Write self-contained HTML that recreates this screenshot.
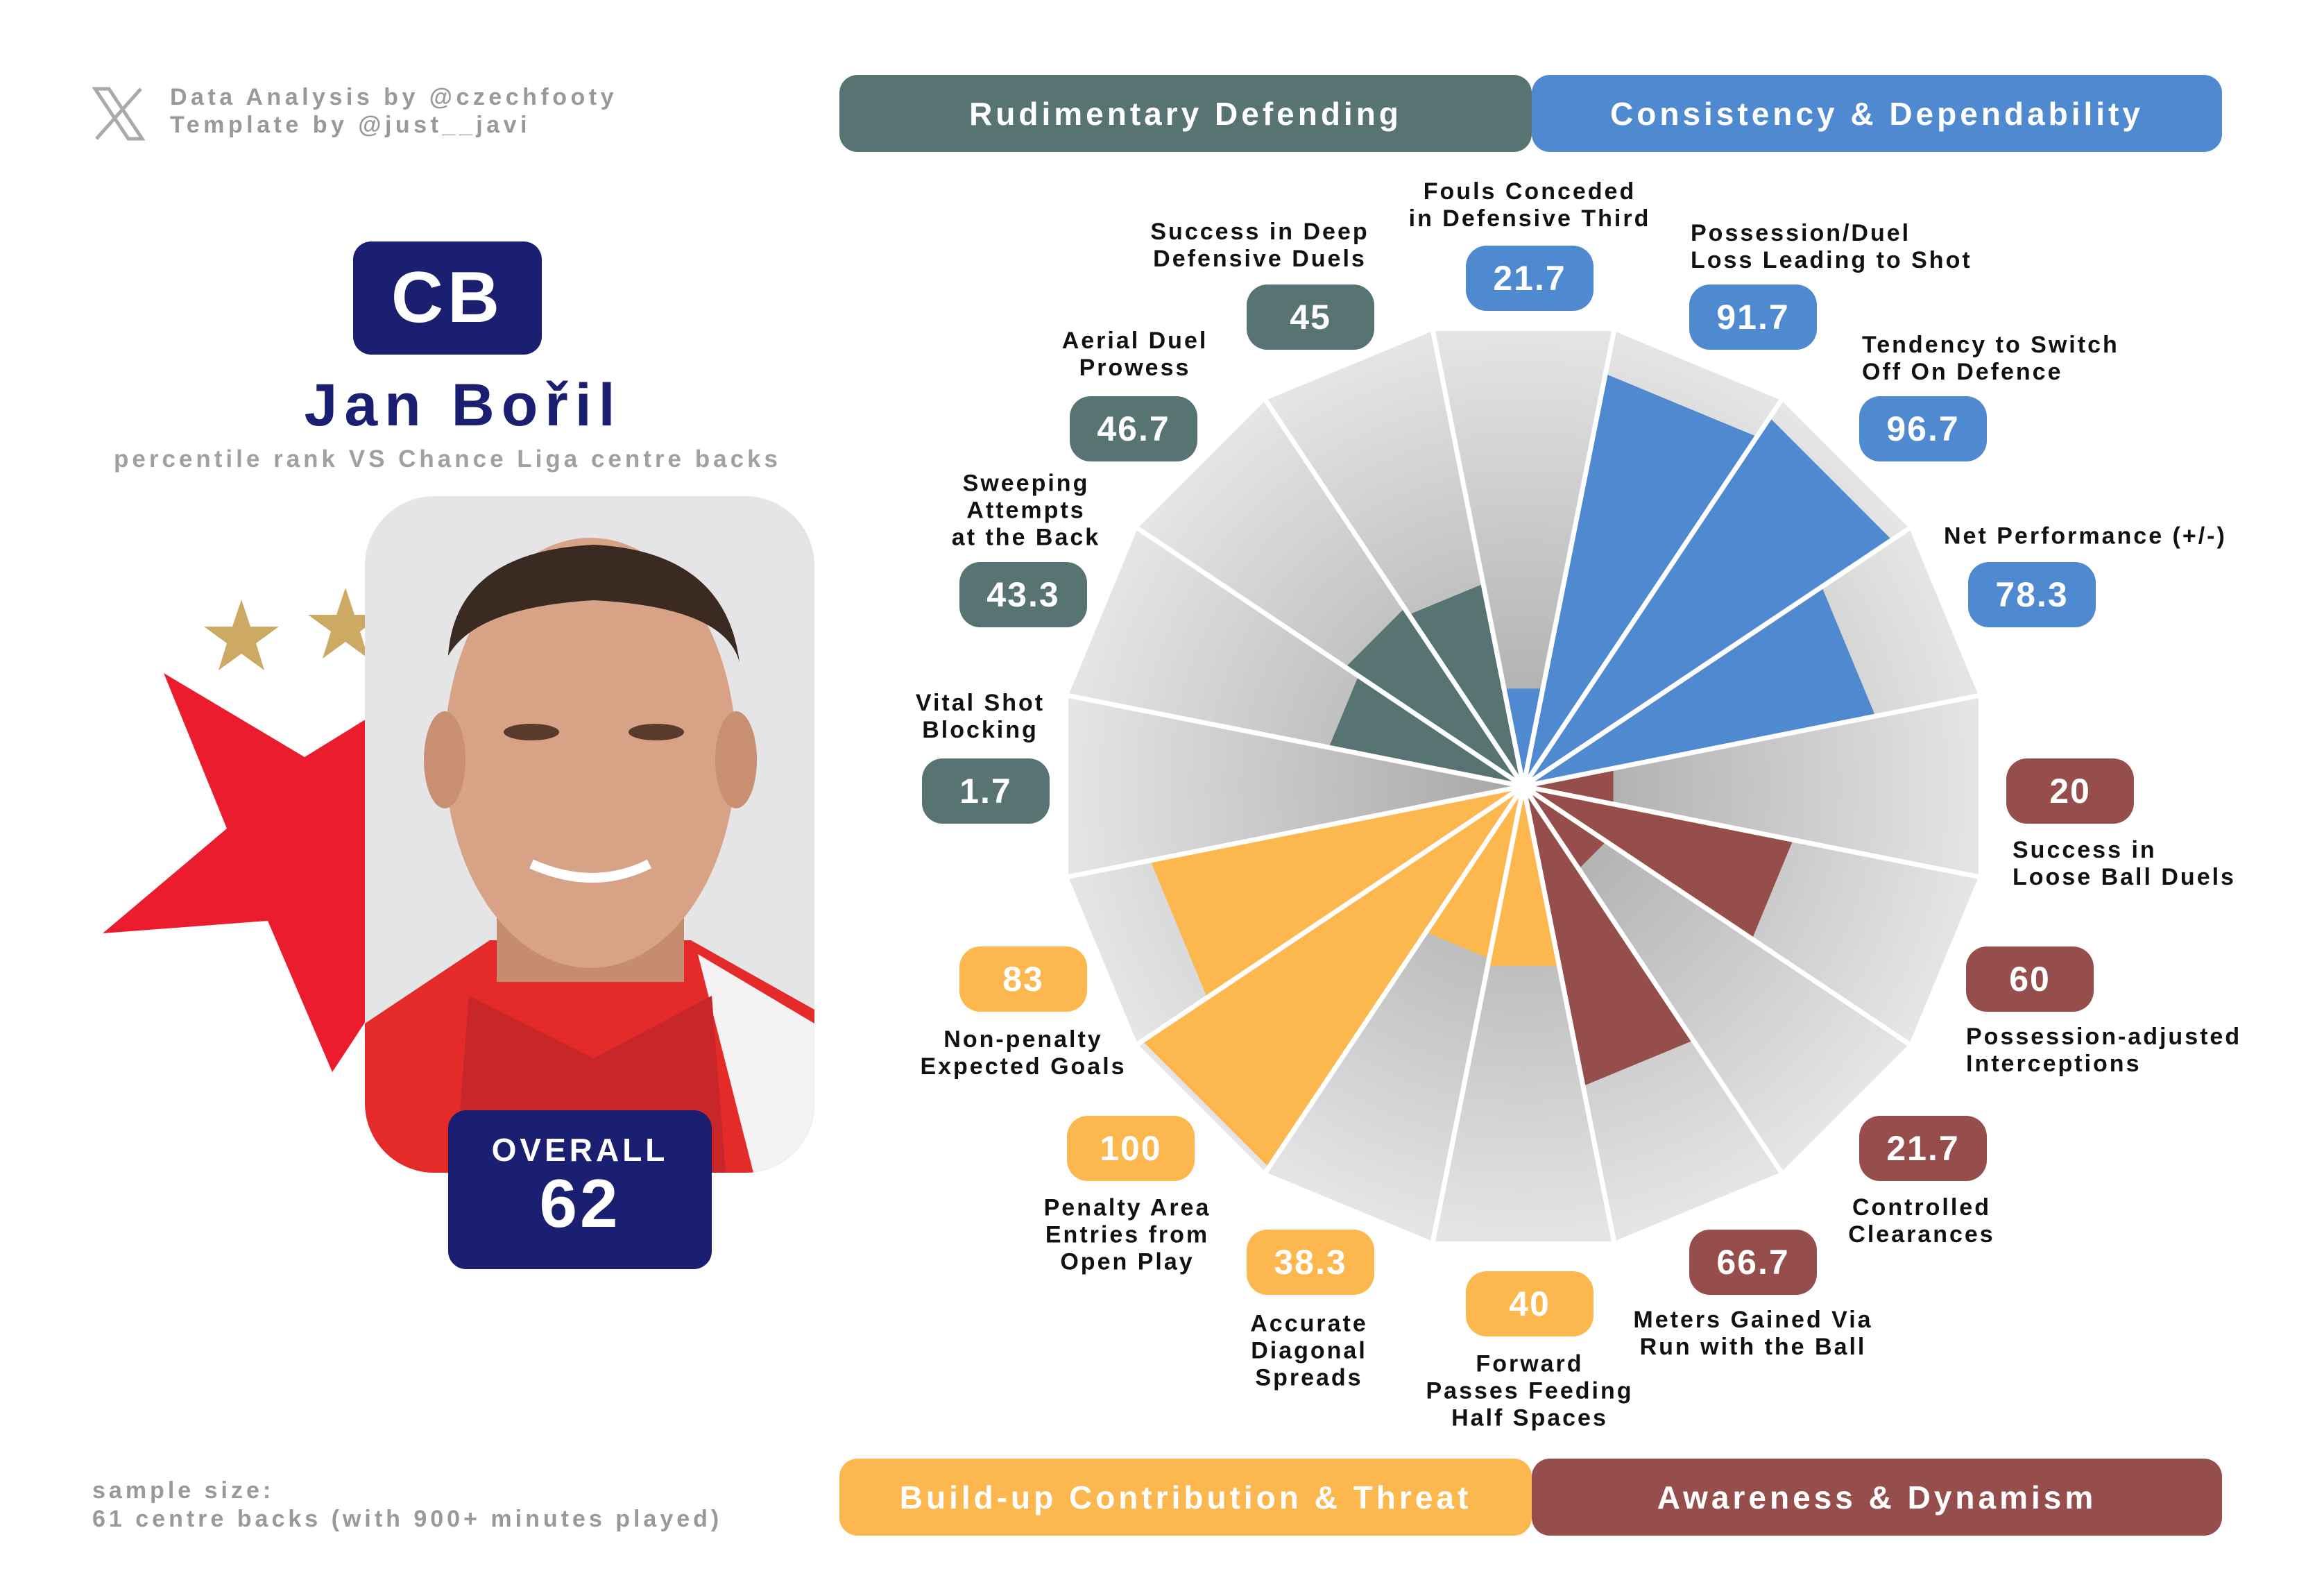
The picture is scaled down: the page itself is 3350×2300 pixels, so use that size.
<!DOCTYPE html>
<html><head><meta charset="utf-8">
<style>
*{margin:0;padding:0;box-sizing:border-box}
body{width:3350px;height:2300px;background:#fff;position:relative;overflow:hidden;font-family:"Liberation Sans",sans-serif}
.a{position:absolute}
.hdr{position:absolute;height:111px;border-radius:26px;color:#fff;font-weight:bold;font-size:46px;letter-spacing:5px;display:flex;align-items:center;justify-content:center}
.lab{position:absolute;font-weight:bold;font-size:34px;letter-spacing:3px;line-height:39px;color:#111;white-space:nowrap}
.c{transform:translate(-50%,-50%);text-align:center}
.l{transform:translateY(-50%);text-align:left}
.b{position:absolute;width:184px;height:94px;border-radius:30px;color:#fff;font-weight:bold;font-size:50px;letter-spacing:2px;display:flex;align-items:center;justify-content:center;transform:translate(-50%,-50%)}
.g{background:#587472}.bl{background:#4f89d0}.y{background:#fdb74f}.r{background:#964e4c}
</style></head><body>

<div class="hdr g" style="left:1210px;top:108px;width:998px">Rudimentary Defending</div>
<div class="hdr bl" style="left:2208px;top:108px;width:995px">Consistency &amp; Dependability</div>
<div class="hdr y" style="left:1210px;top:2102px;width:998px">Build-up Contribution &amp; Threat</div>
<div class="hdr r" style="left:2208px;top:2102px;width:995px">Awareness &amp; Dynamism</div>

<svg class="a" style="left:133px;top:124px" width="76" height="80" viewBox="0 0 76 80">
<path d="M4 4 L52 76 L72 76 L24 4 Z" fill="none" stroke="#aaa" stroke-width="5"/>
<line x1="70" y1="4" x2="6" y2="76" stroke="#aaa" stroke-width="5"/>
</svg>
<div class="a" style="left:245px;top:120px;font-size:34px;font-weight:bold;color:#999;letter-spacing:5.5px;line-height:40px">Data Analysis by @czechfooty<br>Template by @just__javi</div>

<div class="a" style="left:509px;top:348px;width:272px;height:163px;background:#1a1f71;border-radius:26px;color:#fff;font-weight:bold;font-size:104px;display:flex;align-items:center;justify-content:center;letter-spacing:6px">CB</div>
<div class="a" style="left:300px;top:535px;width:735px;text-align:center;font-size:86px;font-weight:bold;color:#1a1f71;letter-spacing:10px">Jan Bořil</div>
<div class="a" style="left:80px;top:642px;width:1130px;text-align:center;font-size:35px;font-weight:bold;color:#a0a0a0;letter-spacing:5px">percentile rank VS Chance Liga centre backs</div>

<svg class="a" style="left:0;top:800px" width="700" height="800" viewBox="0 800 700 800">
<polygon points="236,970 439,1091 700,930 640,1300 479,1545 386,1327 148,1345 327,1194" fill="#ea1c2e"/>
<polygon points="348,864 361,903 402,903 369,927 381,966 348,942 315,966 327,927 294,903 335,903" fill="#cdaa63"/>
<polygon points="498,847 511,886 552,886 519,910 531,949 498,925 465,949 477,910 444,886 485,886" fill="#cdaa63"/>
</svg>

<svg class="a" style="left:526px;top:715px" width="648" height="975" viewBox="0 0 648 975">
<defs><clipPath id="cc"><rect x="0" y="0" width="648" height="975" rx="100"/></clipPath></defs>
<g clip-path="url(#cc)">
<rect width="648" height="975" fill="#e5e4e6"/>
<path d="M0 760 L180 640 L470 640 L648 740 L648 975 L0 975 Z" fill="#e42b2a"/>
<path d="M480 660 L648 760 L648 975 L560 975 Z" fill="#f4f2f2"/>
<path d="M130 975 L150 720 L330 810 L500 720 L520 975 Z" fill="#c9262a"/>
<rect x="190" y="560" width="270" height="140" fill="#c58c70"/>
<ellipse cx="325" cy="370" rx="210" ry="310" fill="#d8a286"/>
<ellipse cx="115" cy="380" rx="30" ry="70" fill="#c98f73"/>
<ellipse cx="535" cy="380" rx="30" ry="70" fill="#c98f73"/>
<path d="M120 230 Q130 80 330 70 Q520 80 540 240 Q520 160 330 150 Q160 160 120 230 Z" fill="#3a2a22"/>
<ellipse cx="240" cy="340" rx="40" ry="12" fill="#5a3a2a"/>
<ellipse cx="420" cy="340" rx="40" ry="12" fill="#5a3a2a"/>
<path d="M240 530 Q330 570 410 530" stroke="#fff" stroke-width="14" fill="none"/>
</g>
</svg>

<div class="a" style="left:646px;top:1600px;width:380px;height:229px;background:#1a1f71;border-radius:26px;color:#fff;text-align:center;font-weight:bold">
<div style="font-size:46px;letter-spacing:5px;margin-top:30px">OVERALL</div>
<div style="font-size:98px;line-height:100px;letter-spacing:4px">62</div>
</div>

<div class="a" style="left:133px;top:2128px;font-size:34px;font-weight:bold;color:#999;letter-spacing:5px;line-height:41px">sample size:<br>61 centre backs (with 900+ minutes played)</div>

<svg id="rad" class="a" style="left:0;top:0" width="3350" height="2300">
<defs><radialGradient id="rg" cx="2196" cy="1133" r="660" gradientUnits="userSpaceOnUse">
<stop offset="0" stop-color="#a6a6a6"/><stop offset="0.55" stop-color="#c8c8c8"/><stop offset="1" stop-color="#e6e5e6"/></radialGradient></defs>
</svg>
<script>
(function(){
var svg=document.getElementById('rad'),cx=2196,cy=1133,ns='http://www.w3.org/2000/svg';
var vals=[21.7,91.7,96.7,78.3,20,60,21.7,66.7,40,38.3,100,83,1.7,43.3,46.7,45];
var cols=['#4f89d0','#4f89d0','#4f89d0','#4f89d0','#964e4c','#964e4c','#964e4c','#964e4c','#fdb74f','#fdb74f','#fdb74f','#fdb74f','#587472','#587472','#587472','#587472'];
var h=11.25*Math.PI/180,k=1/Math.cos(h);
function wedge(i,a,fill){
 var t=i*22.5*Math.PI/180,r=a*k,p=cx+','+cy;
 [t-h,t+h].forEach(function(q){p+=' '+(cx+r*Math.sin(q)).toFixed(1)+','+(cy-r*Math.cos(q)).toFixed(1);});
 var e=document.createElementNS(ns,'polygon');e.setAttribute('points',p);e.setAttribute('fill',fill);svg.appendChild(e);
}
for(var i=0;i<16;i++)wedge(i,656,'url(#rg)');
for(i=0;i<16;i++)wedge(i,vals[i]/100*648,cols[i]);
for(i=0;i<16;i++){var q=(i*22.5+11.25)*Math.PI/180,r=656*k+4;
 var l=document.createElementNS(ns,'line');l.setAttribute('x1',cx);l.setAttribute('y1',cy);
 l.setAttribute('x2',cx+r*Math.sin(q));l.setAttribute('y2',cy-r*Math.cos(q));
 l.setAttribute('stroke','#fff');l.setAttribute('stroke-width','7');svg.appendChild(l);}
var c=document.createElementNS(ns,'circle');c.setAttribute('cx',cx);c.setAttribute('cy',cy);c.setAttribute('r','10');c.setAttribute('fill','#fff');svg.appendChild(c);
})();
</script>

<div class="lab c" style="left:2205px;top:296px">Fouls Conceded<br>in Defensive Third</div>
<div class="b bl" style="left:2205px;top:401px">21.7</div>
<div class="lab l" style="left:2437px;top:356px">Possession/Duel<br>Loss Leading to Shot</div>
<div class="b bl" style="left:2527px;top:457px">91.7</div>
<div class="lab l" style="left:2684px;top:517px">Tendency to Switch<br>Off On Defence</div>
<div class="b bl" style="left:2772px;top:618px">96.7</div>
<div class="lab l" style="left:2802px;top:773px">Net Performance (+/-)</div>
<div class="b bl" style="left:2929px;top:857px">78.3</div>
<div class="b r" style="left:2984px;top:1140px">20</div>
<div class="lab l" style="left:2901px;top:1245px">Success in<br>Loose Ball Duels</div>
<div class="b r" style="left:2926px;top:1411px">60</div>
<div class="lab l" style="left:2834px;top:1514px">Possession-adjusted<br>Interceptions</div>
<div class="b r" style="left:2772px;top:1655px">21.7</div>
<div class="lab c" style="left:2770px;top:1760px">Controlled<br>Clearances</div>
<div class="b r" style="left:2527px;top:1819px">66.7</div>
<div class="lab c" style="left:2527px;top:1922px">Meters Gained Via<br>Run with the Ball</div>
<div class="b y" style="left:2205px;top:1879px">40</div>
<div class="lab c" style="left:2205px;top:2005px">Forward<br>Passes Feeding<br>Half Spaces</div>
<div class="b y" style="left:1889px;top:1819px">38.3</div>
<div class="lab c" style="left:1887px;top:1947px">Accurate<br>Diagonal<br>Spreads</div>
<div class="b y" style="left:1630px;top:1655px">100</div>
<div class="lab c" style="left:1625px;top:1780px">Penalty Area<br>Entries from<br>Open Play</div>
<div class="b y" style="left:1475px;top:1411px">83</div>
<div class="lab c" style="left:1475px;top:1518px">Non-penalty<br>Expected Goals</div>
<div class="b g" style="left:1421px;top:1140px">1.7</div>
<div class="lab c" style="left:1413px;top:1033px">Vital Shot<br>Blocking</div>
<div class="b g" style="left:1475px;top:857px">43.3</div>
<div class="lab c" style="left:1479px;top:736px">Sweeping<br>Attempts<br>at the Back</div>
<div class="b g" style="left:1634px;top:618px">46.7</div>
<div class="lab c" style="left:1636px;top:511px">Aerial Duel<br>Prowess</div>
<div class="b g" style="left:1889px;top:457px">45</div>
<div class="lab c" style="left:1816px;top:354px">Success in Deep<br>Defensive Duels</div>
</body></html>
